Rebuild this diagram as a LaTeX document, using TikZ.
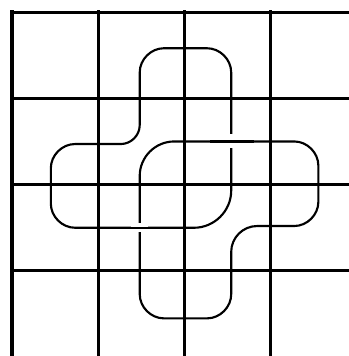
\documentclass[tikz,border=0pt]{standalone}
\begin{document}
\begin{tikzpicture}[scale=1,
    knotline/.style={line width=0.7pt}]
    \clip (-0.139,0.014) rectangle (3.905,4.139);
    % Lưới ô vuông
    \draw [line width=1pt, line cap=rect] (0,-1) grid (5,4);
    
    % Vòng thứ nhất (nhánh trên và nhánh trái)
    \draw[knotline] (2,3.58) -- (2.26,3.58) .. controls (2.41,3.58) and (2.54,3.45) .. (2.54,3.30)
        -- (2.54,1.93) .. controls (2.54,1.69) and (2.34,1.5) .. (2.11,1.5)
        -- (0.73,1.5) .. controls (0.58,1.5) and (0.45,1.63) .. (0.45,1.78)
        -- (0.45,2.19) .. controls (0.45,2.34) and (0.58,2.47) .. (0.73,2.47)
        -- (1.26,2.47) .. controls (1.38,2.47) and (1.48,2.57) .. (1.48,2.69)
        -- (1.48,3.30) .. controls (1.48,3.45) and (1.61,3.58) .. (1.76,3.58)
        -- cycle;
    
    % Vòng thứ hai (nhánh dưới và nhánh phải)
    \draw[knotline] (3,2.5) -- (1.88,2.5) .. controls (1.66,2.5) and (1.48,2.32) .. (1.48,2.1)
        -- (1.48,0.73) .. controls (1.48,0.58) and (1.61,0.45) .. (1.76,0.45)
        -- (2.26,0.45) .. controls (2.41,0.45) and (2.54,0.58) .. (2.54,0.73)
        -- (2.54,1.22) .. controls (2.54,1.385) and (2.675,1.52) .. (2.84,1.52)
        -- (3.27,1.52) .. controls (3.42,1.52) and (3.55,1.65) .. (3.55,1.80)
        -- (3.55,2.22) .. controls (3.55,2.37) and (3.42,2.5) .. (3.27,2.5)
        -- cycle;
    
    % Chỗ bắt chéo: nét trên che nét dưới
    \draw[white, line width=3pt] (1.38,1.5) -- (1.58,1.5);
    \draw[knotline] (1.3,1.5) -- (1.66,1.5);
    \draw[white, line width=4.6pt] (2.4,2.5) -- (2.68,2.5);
    \draw[knotline] (2.3,2.5) -- (2.8,2.5);
    \end{tikzpicture}
\end{document}
